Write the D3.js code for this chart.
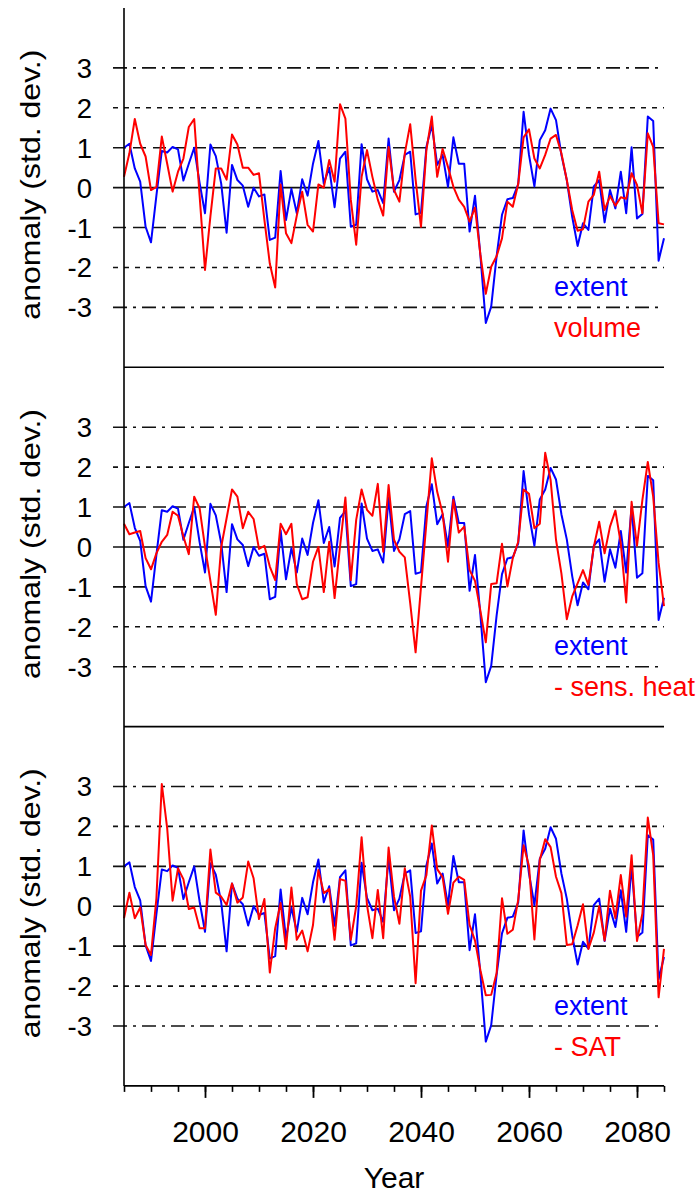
<!DOCTYPE html>
<html>
<head>
<meta charset="utf-8">
<script src="https://cdn.jsdelivr.net/npm/d3@7"></script>
<style>
  body { margin: 0; background: #fff; }
  text { font-family: "Liberation Sans", Arial, Helvetica, sans-serif; }
</style>
</head>
<body>
<div id="chart"></div>
<script>
// annual values 1985..2085
var years = d3.range(1985, 2086);

var extent = [
  1.0, 1.1, 0.48, 0.15, -0.98, -1.37, -0.2, 0.92, 0.88, 1.02,
  0.96, 0.18, 0.6, 1.0, 0.12, -0.64, 1.08, 0.79, 0.1, -1.13,
  0.57, 0.19, 0.05, -0.48, 0.0, -0.22, -0.17, -1.31, -1.25, 0.42,
  -0.81, -0.03, -0.64, 0.21, -0.2, 0.6, 1.17, 0.1, 0.5, -0.49,
  0.73, 0.9, -0.98, -0.93, 1.09, 0.21, -0.1, -0.06, -0.39, 1.23,
  -0.1, 0.19, 0.82, 0.9, -0.67, -0.63, 1.02, 1.57, 0.57, 0.82,
  0.02, 1.26, 0.6, 0.6, -1.1, -0.2, -1.7, -3.39, -2.98, -1.72,
  -0.68, -0.29, -0.26, 0.09, 1.9, 0.82, 0.03, 1.19, 1.44, 1.98,
  1.69, 0.82, 0.19, -0.73, -1.46, -0.89, -1.06, 0.03, 0.19, -0.87,
  -0.06, -0.52, 0.4, -0.64, 1.01, -0.77, -0.66, 1.78, 1.67, -1.83,
  -1.27
];

var volume = [
  0.27, 0.86, 1.72, 1.1, 0.78, -0.06, 0.02, 1.28, 0.6, -0.1,
  0.4, 0.73, 1.52, 1.72, -0.2, -2.06, -0.72, 0.48, 0.48, 0.2,
  1.33, 1.08, 0.5, 0.5, 0.32, 0.36, -0.81, -1.9, -2.5, 0.08,
  -1.14, -1.39, -0.7, -0.1, -0.93, -1.1, 0.08, 0.0, 0.69, 0.15,
  2.09, 1.73, -0.3, -1.43, 0.27, 0.94, 0.27, -0.3, -0.7, 1.02,
  -0.06, -0.35, 0.86, 1.59, 0.2, -0.98, 0.94, 1.78, 0.27, 0.97,
  0.52, 0.02, -0.3, -0.48, -0.85, -0.5, -1.68, -2.66, -1.98, -1.72,
  -1.27, -0.35, -0.48, 0.09, 1.26, 1.46, 0.73, 0.48, 0.82, 1.23,
  1.32, 0.86, 0.19, -0.56, -1.08, -1.04, -0.35, -0.18, 0.4, -0.56,
  -0.21, -0.45, -0.24, -0.28, 0.36, 0.07, -0.64, 1.36, 1.02, -0.89,
  -0.92
];

var sensHeat = [
  0.58, 0.32, 0.36, 0.4, -0.28, -0.56, -0.16, 0.13, 0.3, 0.88,
  0.78, 0.26, -0.18, 1.26, 0.97, 0.0, -0.85, -1.7, 0.0, 0.72,
  1.44, 1.26, 0.47, 0.88, 0.7, -0.05, 0.03, -0.49, -0.83, 0.58,
  0.32, 0.58, -0.93, -1.31, -1.26, -0.37, 0.0, -1.13, 0.13, -1.28,
  0.0, 1.24, -0.83, 0.68, 1.44, 0.93, 0.78, 1.58, -0.12, 1.55,
  0.18, -0.12, -0.26, -1.41, -2.64, -1.0, 0.6, 2.22, 1.38, 0.84,
  -0.37, 1.18, 0.36, 0.51, -0.58, -0.85, -1.6, -2.39, -0.93, -0.91,
  0.08, -0.99, -0.28, 0.13, 1.44, 1.33, 0.47, 0.58, 2.36, 1.68,
  0.18, -0.66, -1.81, -1.24, -0.91, -0.58, -0.95, 0.0, 0.63, -0.16,
  0.51, 0.91, 0.09, -1.39, 1.13, 0.03, 1.18, 2.13, 1.26, -0.4,
  -1.48
];

var sat = [
  -0.3, 0.34, -0.3, -0.03, -0.97, -1.22, 0.2, 3.06, 1.95, 0.14,
  0.95, 0.68, -0.07, -0.03, -0.55, -0.55, 1.42, 0.34, 0.24, 0.03,
  0.57, 0.09, 0.22, 1.12, 0.7, -0.32, 0.18, -1.66, -0.55, 0.08,
  -1.07, 0.47, -0.84, -0.61, -1.13, -0.47, 0.91, 0.33, 0.43, -0.84,
  0.68, 0.64, -0.84, 0.0, 1.73, 0.03, -0.8, 0.41, -0.8, 1.47,
  0.24, -0.44, 0.95, 0.24, -1.93, 0.39, 0.78, 2.02, 0.93, 0.73,
  -0.19, 0.59, 0.74, 0.66, -0.47, -0.86, -1.6, -2.23, -2.22, -1.68,
  0.2, -0.69, -0.59, 0.16, 1.53, 1.01, -0.83, 1.16, 1.68, 1.48,
  0.74, 0.33, -0.97, -0.95, -0.48, 0.05, -1.07, -0.66, 0.0, -0.86,
  0.39, -0.3, 0.78, -0.26, 1.28, -0.87, -0.18, 2.22, 1.28, -2.28,
  -1.07
];

var redSeries = [volume, sensHeat, sat];
var redLabels = ["volume", "- sens. heat", "- SAT"];
var gridValues = [-3, -2, -1, 0, 1, 2, 3];
var majorYears = [2000, 2020, 2040, 2060, 2080];

var W = 699, H = 1196;
var left = 124, right = 664, top0 = 8, panelH = 359.3;

var svg = d3.select("#chart")
    .append("svg")
    .attr("width", W)
    .attr("height", H);

var x = d3.scaleLinear()
    .domain([1985, 2085])
    .range([left, right]);

// dash pattern per grid value
function gridDash(v) {
    var a = Math.abs(v);
    if (a === 0) return null;
    if (a === 1) return "13,7";
    if (a === 2) return "5,6";
    return "14,6,3,6";
}

redSeries.forEach(function(red, i) {
    var top = top0 + i * panelH;
    var y = d3.scaleLinear()
        .domain([-4.5, 4.5])
        .range([top + panelH, top]);

    var g = svg.append("g");

    g.selectAll("line.grid")
        .data(gridValues)
        .enter().append("line")
        .attr("class", "grid")
        .attr("x1", left - 11)
        .attr("x2", right)
        .attr("y1", function(d) { return y(d); })
        .attr("y2", function(d) { return y(d); })
        .attr("stroke", "#111")
        .attr("stroke-width", 1.6)
        .attr("stroke-dasharray", gridDash);

    g.selectAll("text.ylab")
        .data(gridValues)
        .enter().append("text")
        .attr("class", "ylab")
        .attr("x", 92)
        .attr("y", function(d) { return y(d) + 10; })
        .attr("text-anchor", "end")
        .attr("font-size", 27.5)
        .text(function(d) { return d; });

    g.append("text")
        .attr("transform", "translate(40," + (top + panelH / 2 - 3) + ") rotate(-90)")
        .attr("text-anchor", "middle")
        .attr("font-size", 28)
        .attr("textLength", 270)
        .attr("lengthAdjust", "spacingAndGlyphs")
        .text("anomaly (std. dev.)");

    var line = d3.line()
        .x(function(d, k) { return x(years[k]); })
        .y(function(d) { return y(d); });

    g.append("path")
        .datum(extent)
        .attr("fill", "none")
        .attr("stroke", "#0000ff")
        .attr("stroke-width", 2)
        .attr("stroke-linejoin", "round")
        .attr("d", line);

    g.append("path")
        .datum(red)
        .attr("fill", "none")
        .attr("stroke", "#ff0000")
        .attr("stroke-width", 2)
        .attr("stroke-linejoin", "round")
        .attr("d", line);

    // panel bottom line
    g.append("line")
        .attr("x1", left).attr("x2", right)
        .attr("y1", top + panelH).attr("y2", top + panelH)
        .attr("stroke", "#000")
        .attr("stroke-width", 1.6);

    g.append("text")
        .attr("x", 554)
        .attr("y", top + 288)
        .attr("font-size", 27)
        .attr("fill", "#0000ff")
        .text("extent");

    g.append("text")
        .attr("x", 554)
        .attr("y", top + 329)
        .attr("font-size", 27)
        .attr("fill", "#ff0000")
        .text(redLabels[i]);
});

// left axis through all panels
svg.append("line")
    .attr("x1", left).attr("x2", left)
    .attr("y1", top0).attr("y2", top0 + 3 * panelH)
    .attr("stroke", "#000")
    .attr("stroke-width", 1.6);

var bottom = top0 + 3 * panelH;

var minorAxis = d3.axisBottom(x)
    .tickValues(d3.range(1985, 2086, 5))
    .tickSize(6)
    .tickFormat("");

var majorAxis = d3.axisBottom(x)
    .tickValues(majorYears)
    .tickSize(12)
    .tickPadding(23)
    .tickFormat(d3.format("d"));

svg.append("g")
    .attr("class", "x axis")
    .attr("transform", "translate(0," + bottom + ")")
    .call(minorAxis)
    .call(function(s) { s.select(".domain").remove(); })
    .selectAll("line").attr("stroke-width", 1.6);

svg.append("g")
    .attr("class", "x axis")
    .attr("transform", "translate(0," + bottom + ")")
    .call(majorAxis)
    .call(function(s) { s.select(".domain").remove(); })
    .call(function(s) {
        s.selectAll("line").attr("stroke-width", 1.8);
        s.selectAll("text")
            .attr("font-size", 30)
            .attr("font-family", "'Liberation Sans', Arial, sans-serif")
            .attr("fill", "#000");
    });

svg.append("text")
    .attr("x", (left + right) / 2)
    .attr("y", 1188)
    .attr("text-anchor", "middle")
    .attr("font-size", 30)
    .text("Year");
</script>
</body>
</html>
